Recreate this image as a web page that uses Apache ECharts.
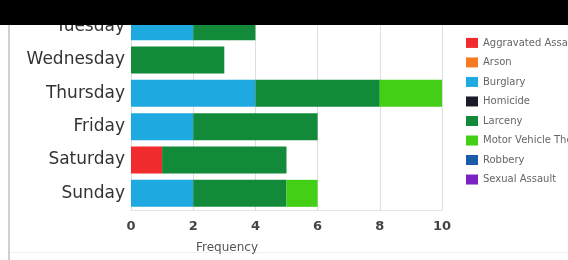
<!DOCTYPE html>
<html>
<head>
    <title>Crimes by Day</title>
    <script src="https://cdn.jsdelivr.net/npm/echarts@6/dist/echarts.min.js"></script>
    <style>
        html, body { margin: 0; padding: 0; background: #fff; }
        #chart { width: 568px; height: 260px; }
    </style>
</head>
<body>
    <div id="chart"></div>

    <script>
    const days = ['Tuesday', 'Wednesday', 'Thursday', 'Friday', 'Saturday', 'Sunday'];
    const crimeTypes = ['Aggravated Assault', 'Arson', 'Burglary', 'Homicide', 'Larceny', 'Motor Vehicle Theft', 'Robbery', 'Sexual Assault'];
    const crimeColors = ['#ef2b2d', '#f57a22', '#1ea9e1', '#1a1a2a', '#128a3a', '#43cf16', '#1b5ca8', '#7b22c4'];

    // counts per day, same order as days
    const aggravatedAssault = [0, 0, 0, 0, 1, 0];
    const arson = [0, 0, 0, 0, 0, 0];
    const burglary = [2, 0, 4, 2, 0, 2];
    const homicide = [0, 0, 0, 0, 0, 0];
    const larceny = [2, 3, 4, 4, 4, 3];
    const motorVehicleTheft = [0, 0, 2, 0, 0, 1];
    const robbery = [0, 0, 0, 0, 0, 0];
    const sexualAssault = [0, 0, 0, 0, 0, 0];

    const xTicks = [0, 2, 4, 6, 8, 10];

    const seriesData = [aggravatedAssault, arson, burglary, homicide, larceny, motorVehicleTheft, robbery, sexualAssault];

    const chart = echarts.init(document.getElementById('chart'));

    chart.setOption({
        animation: false,
        color: crimeColors,
        grid: { left: 131, right: 126, top: 10, bottom: 50 },
        xAxis: {
            type: 'value',
            min: xTicks[0],
            max: xTicks[xTicks.length - 1],
            interval: 2,
            axisLine: { show: true, lineStyle: { color: '#e2e2e2' } },
            axisTick: { show: false },
            splitLine: { lineStyle: { color: '#dedede' } },
            axisLabel: { color: '#444', fontSize: 13, fontWeight: 'bold', margin: 3, fontFamily: 'DejaVu Sans' }
        },
        yAxis: {
            type: 'category',
            data: days,
            inverse: true,
            axisLine: { show: false },
            axisTick: { show: false },
            axisLabel: { interval: 0, color: '#333', fontSize: 17, margin: 6, fontFamily: 'DejaVu Sans' }
        },
        legend: {
            orient: 'vertical',
            left: 461,
            top: 28,
            itemWidth: 12,
            itemHeight: 10,
            itemGap: -0.3,
            icon: 'rect',
            textStyle: { fontSize: 10, color: '#666', fontFamily: 'DejaVu Sans' },
            data: crimeTypes
        },
        series: crimeTypes.map((name, i) => ({
            name: name,
            type: 'bar',
            stack: 'total',
            barCategoryGap: '19%',
            data: seriesData[i]
        })),
        graphic: [
            { type: 'rect', z: 100, shape: { x: 0, y: 0, width: 568, height: 25 }, style: { fill: '#000' } },
            { type: 'rect', z: 50, shape: { x: 8, y: 25, width: 2, height: 235 }, style: { fill: '#d0d0d0' } },
            { type: 'rect', z: 50, shape: { x: 10, y: 252, width: 558, height: 1 }, style: { fill: '#f0f0f0' } },
            { type: 'text', z: 50, left: 196, top: 236, style: { text: 'Frequency', fontSize: 12, fill: '#555', fontFamily: 'DejaVu Sans' } }
        ]
    });
    </script>
</body>
</html>
